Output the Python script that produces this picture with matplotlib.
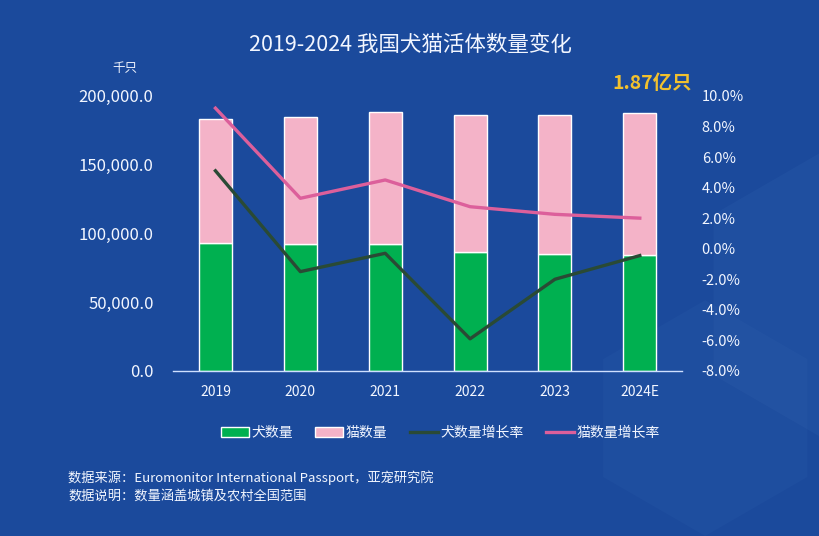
import numpy as np
import matplotlib
matplotlib.use('Agg')
import matplotlib.pyplot as plt
from matplotlib.patches import Polygon, Patch
from matplotlib.lines import Line2D
from matplotlib.ticker import FuncFormatter

plt.rcParams['font.family'] = ['Noto Sans CJK SC', 'DejaVu Sans']

# data (千只 / %)
years = ['2019', '2020', '2021', '2022', '2023', '2024E']
dogs = [93300, 92100, 92100, 86300, 85100, 84100]
cats = [89700, 92400, 96000, 99900, 101100, 103300]
dog_growth = [5.1, -1.5, -0.3, -5.9, -2.0, -0.45]
cat_growth = [9.2, 3.3, 4.5, 2.75, 2.25, 2.0]

bg = '#1b4a9c'
white = '#f2f6ff'

fig = plt.figure(figsize=(8.2, 5.36), dpi=100)
fig.patch.set_facecolor(bg)

# faint hexagon decorations in the background
def hexagon(cx, cy, r, alpha):
    ang = np.radians(np.arange(0, 360, 60) + 30)
    pts = np.c_[cx + r * np.cos(ang) * 536 / 820, cy + r * np.sin(ang)]
    fig.patches.append(Polygon(pts, closed=True, transform=fig.transFigure,
                               facecolor='#5a8fd0', edgecolor='none', alpha=alpha, zorder=-5))

hexagon(1.04, 0.45, 0.30, 0.08)
hexagon(0.86, 0.22, 0.22, 0.06)

ax = fig.add_axes([0.211, 0.308, 0.621, 0.513])
ax.set_zorder(2)
ax.set_facecolor('none')
x = np.arange(len(years))
w = 0.39
ax.bar(x, dogs, w, color='#00b050', edgecolor='white', linewidth=1, zorder=2)
ax.bar(x, cats, w, bottom=dogs, color='#f4b3c8', edgecolor='white', linewidth=1, zorder=2)
ax.set_xlim(-0.5, 5.5)
ax.set_ylim(0, 200000)
ax.set_yticks(np.arange(0, 200001, 50000))
ax.yaxis.set_major_formatter(FuncFormatter(lambda v, p: '{:,.1f}'.format(v)))
ax.set_xticks(x)
ax.set_xticklabels(years)
ax.tick_params(axis='y', length=0, labelsize=12, labelcolor=white, pad=14)
ax.tick_params(axis='x', length=0, labelsize=10, labelcolor=white, pad=10)
for s in ['top', 'left', 'right']:
    ax.spines[s].set_visible(False)
ax.spines['bottom'].set_color('#cfe0ff')
ax.spines['bottom'].set_linewidth(1)

ax2 = ax.twinx()
ax2.set_zorder(3)
ax2.plot(x, dog_growth, color='#2a4a35', linewidth=2.4, zorder=3)
ax2.plot(x, cat_growth, color='#dc5f9b', linewidth=2.4, zorder=3)
ax2.set_ylim(-8, 10)
ax2.set_yticks(np.arange(-8, 10.1, 2))
ax2.yaxis.set_major_formatter(FuncFormatter(lambda v, p: '{:.1f}%'.format(v)))
ax2.tick_params(axis='y', length=0, labelsize=10.5, labelcolor=white, pad=14)
for s in ax2.spines.values():
    s.set_visible(False)

fig.text(0.5, 0.916, '2019-2024 我国犬猫活体数量变化', ha='center', va='center',
         fontsize=15.5, color=white)
fig.text(0.152, 0.873, '千只', ha='center', va='center', fontsize=9, color=white)
fig.text(0.795, 0.845, '1.87亿只', ha='center', va='center', fontsize=14,
         fontweight='bold', color='#f2c12e')

handles = [Patch(facecolor='#00b050', edgecolor='white'),
           Patch(facecolor='#f4b3c8', edgecolor='white'),
           Line2D([], [], color='#2a4a35', linewidth=2.4),
           Line2D([], [], color='#dc5f9b', linewidth=2.4)]
labels = ['犬数量', '猫数量', '犬数量增长率', '猫数量增长率']
fig.legend(handles, labels, loc='center', bbox_to_anchor=(0.537, 0.192), ncol=4,
           frameon=False, fontsize=10, labelcolor=white, handlelength=2.0,
           handletextpad=0.2, columnspacing=1.6)

fig.text(0.083, 0.108, '数据来源：Euromonitor International Passport，亚宠研究院',
         ha='left', va='center', fontsize=9.5, color=white)
fig.text(0.083, 0.075, '数据说明：数量涵盖城镇及农村全国范围',
         ha='left', va='center', fontsize=9.5, color=white)

fig.savefig('out.png', dpi=100, facecolor=bg)
